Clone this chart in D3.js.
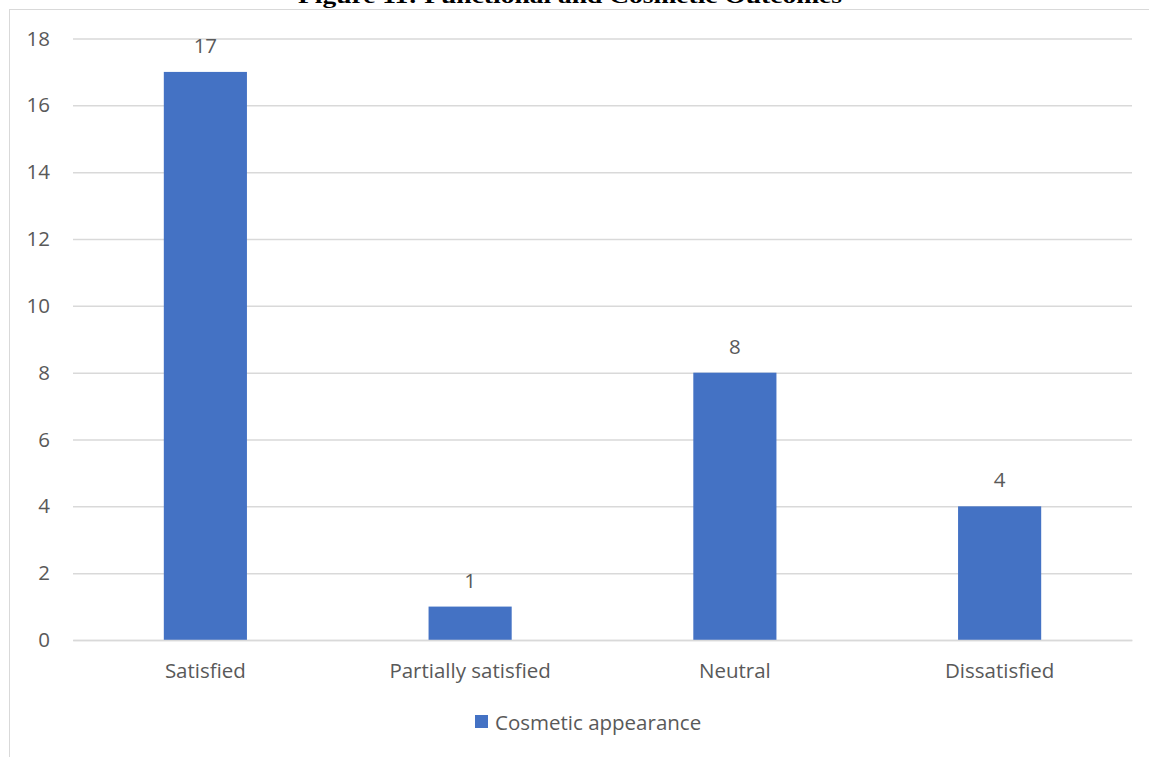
<!DOCTYPE html>
<html>
<head>
<meta charset="utf-8">
<script src="https://cdn.jsdelivr.net/npm/d3@7"></script>
<style>
  html, body { margin: 0; padding: 0; background: #ffffff; }
  svg { display: block; }
</style>
</head>
<body>
<svg id="chart" width="1149" height="757"></svg>
<script>
// Survey responses for cosmetic appearance
const categories = ["Satisfied", "Partially satisfied", "Neutral", "Dissatisfied"];
const cosmeticValues = [17, 1, 8, 4];
const yTicks = [0, 2, 4, 6, 8, 10, 12, 14, 16, 18];
const seriesName = "Cosmetic appearance";
const titleText = "Figure 11: Functional and Cosmetic Outcomes";

const svg = d3.select("#chart");
const W = 1149, H = 757;
const plot = { left: 73, right: 1132, top: 38.5, bottom: 640 };
const font = "'Open Sans', 'Noto Sans', sans-serif";
const fontSize = 20.5;
const textColor = "#595959";
const barColor = "#4472c4";
const gridColor = "#d9d9d9";

// Title sits above the chart frame
svg.append("text")
  .attr("x", 570).attr("y", 3)
  .attr("text-anchor", "middle")
  .attr("font-family", "'Liberation Serif', 'Times New Roman', serif")
  .attr("font-weight", "bold")
  .attr("font-size", 22)
  .attr("textLength", 544)
  .attr("lengthAdjust", "spacingAndGlyphs")
  .attr("fill", "#000")
  .text(titleText);

// Chart frame
svg.append("rect")
  .attr("x", 9.5).attr("y", 9.5)
  .attr("width", W + 20).attr("height", H + 20)
  .attr("fill", "none")
  .attr("stroke", gridColor)
  .attr("stroke-width", 1);

const x = d3.scaleBand()
  .domain(categories)
  .range([plot.left, plot.right])
  .paddingInner(0.686)
  .paddingOuter(0.343);

const y = d3.scaleLinear()
  .domain([0, 18])
  .range([plot.bottom, plot.top]);

// Horizontal gridlines with value labels
const yAxis = d3.axisLeft(y)
  .tickValues(yTicks)
  .tickSize(-(plot.right - plot.left))
  .tickPadding(23)
  .tickFormat(d3.format("d"));

const gy = svg.append("g")
  .attr("transform", `translate(${plot.left},0)`)
  .call(yAxis);
gy.select(".domain").remove();
gy.selectAll(".tick line")
  .attr("stroke", gridColor)
  .attr("stroke-width", 1.5);
gy.selectAll(".tick text")
  .attr("fill", textColor)
  .attr("font-family", font)
  .attr("font-size", fontSize);

// Bars
svg.append("g").selectAll("rect")
  .data(categories)
  .join("rect")
  .attr("x", d => x(d))
  .attr("width", x.bandwidth())
  .attr("y", (d, i) => y(cosmeticValues[i]))
  .attr("height", (d, i) => y(0) - y(cosmeticValues[i]))
  .attr("fill", barColor);

// Value labels above bars
svg.append("g").selectAll("text")
  .data(categories)
  .join("text")
  .attr("x", d => x(d) + x.bandwidth() / 2)
  .attr("y", (d, i) => y(cosmeticValues[i]) - 19)
  .attr("text-anchor", "middle")
  .attr("fill", textColor)
  .attr("font-family", font)
  .attr("font-size", fontSize)
  .text((d, i) => cosmeticValues[i]);

// Category axis
const xAxis = d3.axisBottom(x).tickSize(0).tickPadding(23);
const gx = svg.append("g")
  .attr("transform", `translate(0,${plot.bottom})`)
  .call(xAxis);
gx.select(".domain").attr("stroke", gridColor).attr("stroke-width", 1.5);
gx.selectAll(".tick text")
  .attr("fill", textColor)
  .attr("font-family", font)
  .attr("font-size", fontSize);

// Legend
const legend = svg.append("g").attr("transform", "translate(475,715)");
legend.append("rect")
  .attr("width", 13).attr("height", 13)
  .attr("fill", barColor);
legend.append("text")
  .attr("x", 20).attr("y", 7.5)
  .attr("dy", "0.35em")
  .attr("fill", textColor)
  .attr("font-family", font)
  .attr("font-size", fontSize)
  .text(seriesName);
</script>
</body>
</html>
